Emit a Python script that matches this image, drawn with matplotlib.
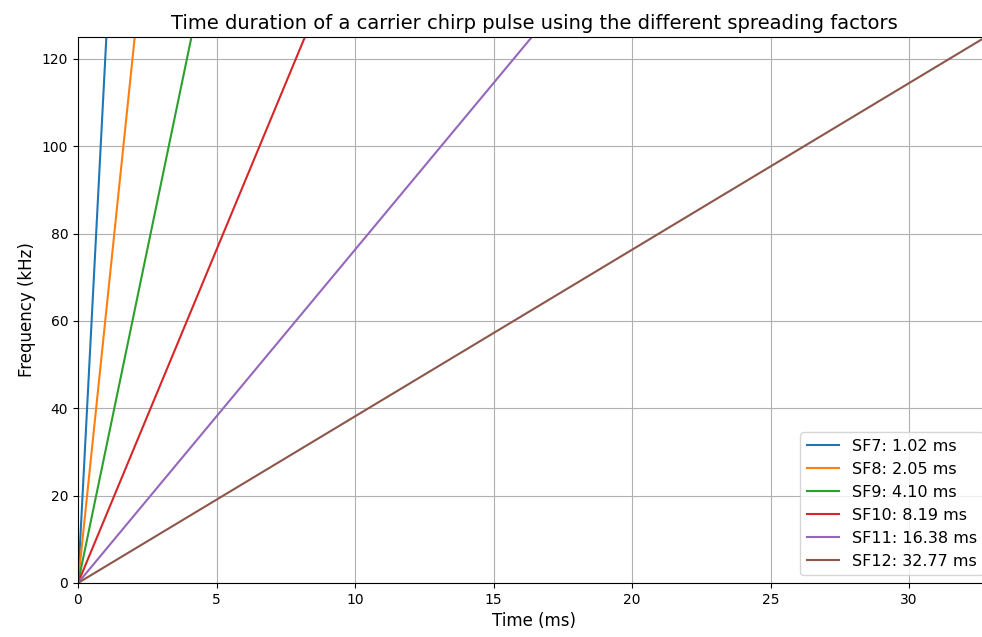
import matplotlib
matplotlib.use("Agg")
import matplotlib.pyplot as plt

# LoRa chirp durations
spreading_factors = ["SF7", "SF8", "SF9", "SF10", "SF11", "SF12"]
durations_ms = [1.024, 2.048, 4.096, 8.192, 16.384, 32.768]
bandwidth_khz = 125

W, H = 982, 637
fig = plt.figure(figsize=(W / 100, H / 100), dpi=100)
# the reference is cropped: the right end of the axes lies just past the image edge
ax = fig.add_axes([78 / W, (H - 583) / H, (991 - 78) / W, (583 - 37) / H])

for sf, t in zip(spreading_factors, durations_ms):
    ax.plot([0, t], [0, bandwidth_khz], label=f"{sf}: {t:.2f} ms")

ax.set_xlim(0, 32.96)
ax.set_ylim(0, 125)
ax.set_xlabel("Time (ms)", fontsize=12)
ax.set_ylabel("Frequency (kHz)", fontsize=12)
ax.set_title("Time duration of a carrier chirp pulse using the different spreading factors",
             fontsize=14)
ax.grid(True)
ax.legend(loc="lower right", fontsize=11.5)

fig.savefig("out.png", dpi=100)
